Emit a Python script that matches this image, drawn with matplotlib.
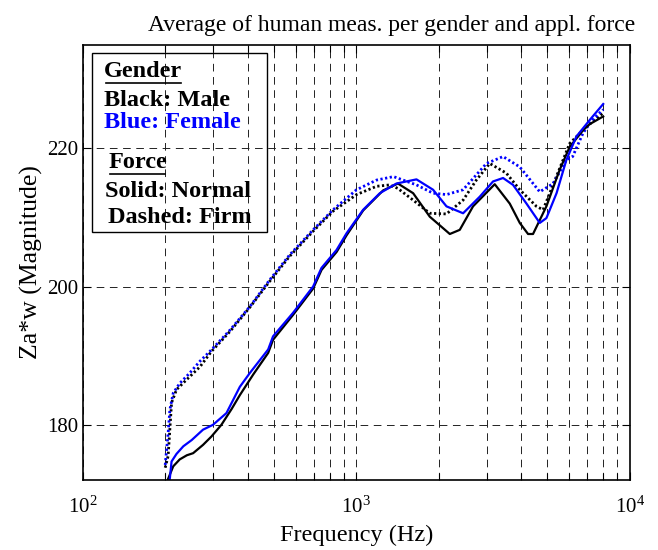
import matplotlib
matplotlib.use("Agg")
import matplotlib.pyplot as plt
from matplotlib.patches import Rectangle
from matplotlib.lines import Line2D
from matplotlib.ticker import LogLocator, FixedLocator

plt.rcParams['font.family'] = ['Liberation Serif', 'DejaVu Serif']
plt.rcParams['mathtext.fontset'] = 'stix'
plt.rcParams['lines.scale_dashes'] = False

# Male, normal force (black solid)
male_normal_f = [200, 205, 214, 226, 240, 253, 275, 295, 321, 350, 375, 420, 476, 496,
                 587, 695, 746, 847, 921, 1059, 1253, 1420, 1614, 1857, 2198, 2390, 2673,
                 3209, 3641, 3962, 4248, 4430, 4958, 5545, 6033, 6750, 7145, 8000]
male_normal_v = [168.0, 172.2, 174.0, 175.0, 175.6, 175.9, 177.1, 178.3, 180.0, 182.3, 184.3,
                 187.3, 190.4, 192.3, 195.9, 199.7, 202.4, 205.0, 207.4, 211.0, 213.9, 214.9,
                 213.5, 210.1, 207.6, 208.2, 211.6, 214.8, 212.0, 209.2, 207.6, 207.6, 211.6,
                 216.9, 220.2, 222.6, 223.5, 224.6]

# Female, normal force (blue solid)
female_normal_f = [200, 208, 211, 220, 233, 250, 275, 299, 335, 375, 408, 476, 496, 587, 695,
                   746, 847, 921, 1059, 1219, 1402, 1660, 1909, 2137, 2458, 2829, 3163, 3442,
                   3744, 4192, 4688, 4958, 5400, 5865, 6383, 7145, 8000]
female_normal_v = [168.5, 172.3, 174.7, 175.8, 176.9, 177.8, 179.3, 180.0, 181.7, 185.5, 187.5,
                   190.9, 192.8, 196.2, 200.0, 202.7, 205.3, 207.7, 211.1, 213.5, 214.9, 215.5,
                   214.0, 211.6, 210.6, 213.0, 215.2, 215.7, 214.7, 212.0, 209.2, 209.9, 213.5,
                   218.3, 221.7, 224.1, 226.4]

# Male, firm force (black dotted)
male_firm_f = [200, 205, 211, 220, 239, 268, 295, 345, 408, 483, 571, 695, 822, 1002, 1186,
               1325, 1418, 1614, 1857, 2137, 2458, 2748, 3076, 3539, 3962, 4558, 4822, 5392,
               6033, 6944, 8000]
male_firm_v = [173.8, 175.5, 183.2, 185.1, 186.5, 188.4, 190.6, 193.5, 197.0, 200.8, 204.4,
               208.0, 210.9, 213.3, 214.5, 214.7, 214.2, 212.5, 210.6, 210.5, 212.5, 215.4,
               217.8, 216.4, 214.0, 211.6, 211.1, 215.9, 220.7, 223.1, 225.1]

# Female, firm force (blue dotted)
female_firm_f = [200, 205, 208, 214, 226, 246, 268, 291, 345, 408, 483, 571, 695, 822, 1002,
                 1186, 1368, 1660, 1909, 2137, 2458, 2993, 3442, 3962, 4688, 5247, 5865, 6186,
                 6750, 7300, 8000]
female_firm_v = [174.2, 178.8, 182.2, 184.6, 186.0, 187.5, 189.2, 190.6, 193.7, 197.1, 201.0,
                 204.6, 208.2, 211.1, 214.0, 215.4, 215.9, 214.7, 213.5, 213.3, 214.0, 217.8,
                 218.8, 217.3, 213.7, 214.9, 218.3, 218.8, 222.2, 224.1, 225.6]

y_ticks = [180, 200, 220]
legend_lines = [("Gender", "black", True), ("Black: Male", "black", False),
                ("Blue: Female", "blue", False), ("Force", "black", True),
                ("Solid: Normal", "black", False), ("Dashed: Firm", "black", False)]

fig = plt.figure(figsize=(6.58, 5.5), dpi=100)
ax = fig.add_axes([0.126, 0.127, 0.831, 0.792])

dot = (0, (1.6, 1.8))
ax.plot(male_firm_f, male_firm_v, color='black', lw=2.0, linestyle=dot)
ax.plot(female_firm_f, female_firm_v, color='blue', lw=2.0, linestyle=dot)
ax.plot(male_normal_f, male_normal_v, color='black', lw=1.6)
ax.plot(female_normal_f, female_normal_v, color='blue', lw=1.6)

ax.set_xscale('log')
ax.set_xlim(100, 10000)
ax.set_ylim(172, 235)
ax.yaxis.set_major_locator(FixedLocator(y_ticks))
ax.xaxis.set_major_locator(LogLocator(base=10, numticks=5))
ax.xaxis.set_minor_locator(LogLocator(base=10, subs=range(2, 10), numticks=20))

grid_style = dict(color='#222222', lw=0.7, linestyle=(0, (5.5, 4)))
ax.grid(True, which='major', axis='both', **grid_style)
ax.grid(True, which='minor', axis='x', **grid_style)

ax.tick_params(which='both', direction='in', top=True, right=True, width=0.8,
               labelsize=15, colors='black')
ax.tick_params(which='major', length=6)
ax.tick_params(which='minor', length=5)
ax.tick_params(axis='x', which='major', pad=12)
for s in ax.spines.values():
    s.set_linewidth(1.2)

ax.set_title("Average of human meas. per gender and appl. force", fontsize=17, pad=10,
             x=0.565)
ax.set_xlabel("Frequency (Hz)", fontsize=17.5, labelpad=5)
ax.set_ylabel("Za*w (Magnitude)", fontsize=18.5, labelpad=3)

# text legend box
ax.add_patch(Rectangle((0.017, 0.570), 0.319, 0.410, transform=ax.transAxes,
                       fill=False, edgecolor='black', lw=1.0, zorder=5))
ys = [0.925, 0.859, 0.808, 0.716, 0.650, 0.590]
xs = [0.039, 0.039, 0.039, 0.046, 0.041, 0.046]
texts = []
for (label, col, under), x, y in zip(legend_lines, xs, ys):
    t = ax.text(x, y, label, transform=ax.transAxes, color=col, fontsize=17.5,
                fontweight='bold', va='baseline', ha='left', zorder=6)
    texts.append((t, under))

fig.canvas.draw()
renderer = fig.canvas.get_renderer()
inv = ax.transAxes.inverted()
for t, under in texts:
    if under:
        bb = t.get_window_extent(renderer)
        (x0, y0), (x1, _) = inv.transform([[bb.x0, bb.y0], [bb.x1, bb.y1]])
        ax.add_line(Line2D([x0 + 0.003, x1 - 0.003], [y0 - 0.002, y0 - 0.002],
                           transform=ax.transAxes, color='black', lw=1.2, zorder=6))

fig.savefig("out.png", dpi=100)
